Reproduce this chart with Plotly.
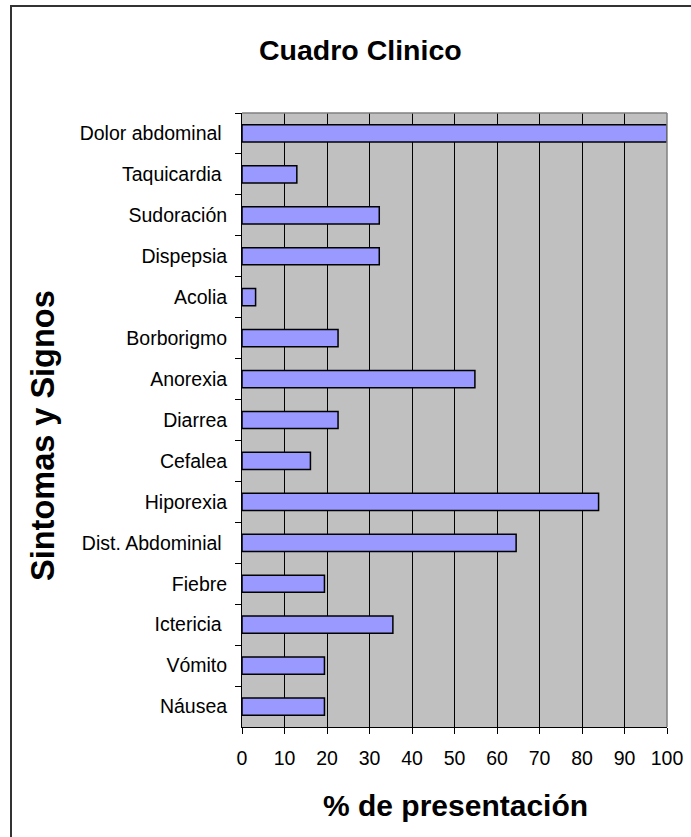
import plotly.graph_objects as go

# Symptom / sign categories, listed from top to bottom as displayed
sintomas = [
    "Dolor abdominal\u00a0",
    "Taquicardia\u00a0",
    "Sudoración",
    "Dispepsia",
    "Acolia",
    "Borborigmo",
    "Anorexia",
    "Diarrea",
    "Cefalea",
    "Hiporexia",
    "Dist. Abdominial\u00a0",
    "Fiebre",
    "Ictericia\u00a0",
    "Vómito",
    "Náusea",
]

# Percentage of presentation for each category
porcentaje = [100.0, 12.9, 32.3, 32.3, 3.2, 22.6, 54.8, 22.6, 16.1, 83.9,
              64.5, 19.4, 35.5, 19.4, 19.4]

x_ticks = [0, 10, 20, 30, 40, 50, 60, 70, 80, 90, 100]

FONT = "Liberation Sans, Arial, sans-serif"
W, H = 691, 837
ML, MR, MT, MB = 242, 24, 113, 110
PW, PH = W - ML - MR, H - MT - MB


def px_x(x):
    return (x - ML) / PW


def px_y(y):
    return (H - MB - y) / PH


fig = go.Figure(
    go.Bar(
        x=porcentaje,
        y=sintomas,
        orientation="h",
        marker=dict(color="#9999FF", line=dict(color="#000000", width=1.5)),
        hoverinfo="x+y",
    )
)

fig.update_layout(
    width=W,
    height=H,
    margin=dict(l=ML, r=MR, t=MT, b=MB, pad=0, autoexpand=False),
    paper_bgcolor="#FFFFFF",
    plot_bgcolor="#C0C0C0",
    bargap=0.58,
    showlegend=False,
    font=dict(family=FONT, color="#000000", size=19.5),
    xaxis=dict(
        range=[0, 100],
        tickvals=x_ticks,
        ticktext=[str(v) for v in x_ticks],
        showgrid=True,
        gridcolor="#000000",
        gridwidth=1,
        zeroline=False,
        showline=True,
        linecolor="#000000",
        linewidth=1,
        ticks="outside",
        ticklen=6,
        tickcolor="#000000",
        ticklabelstandoff=8,
        tickfont=dict(size=19.5),
        automargin=False,
        fixedrange=True,
    ),
    yaxis=dict(
        type="category",
        categoryorder="array",
        categoryarray=sintomas,
        autorange="reversed",
        showgrid=False,
        zeroline=False,
        showline=True,
        linecolor="#000000",
        linewidth=1,
        ticks="outside",
        tickson="boundaries",
        ticklen=6,
        tickcolor="#000000",
        ticklabelstandoff=10,
        tickfont=dict(size=19.5),
        automargin=False,
        fixedrange=True,
    ),
    shapes=[
        # grey frame on the top and right of the plotting area
        dict(type="line", xref="paper", yref="paper", x0=0, x1=1, y0=1, y1=1,
             line=dict(color="#808080", width=1.5), layer="above"),
        dict(type="line", xref="paper", yref="paper", x0=1, x1=1, y0=0, y1=1,
             line=dict(color="#808080", width=1.5), layer="above"),
        # outer chart border
        dict(type="rect", xref="paper", yref="paper",
             x0=px_x(11), x1=px_x(700), y0=px_y(845), y1=px_y(6),
             line=dict(color="#333333", width=2), fillcolor="rgba(0,0,0,0)",
             layer="below"),
    ],
    annotations=[
        dict(text="<b>Cuadro Clinico</b>", xref="paper", yref="paper",
             x=px_x(360), y=px_y(50), xanchor="center", yanchor="middle",
             showarrow=False, font=dict(size=28.5, family=FONT)),
        dict(text="<b>% de presentación</b>", xref="paper", yref="paper",
             x=px_x(455), y=px_y(805), xanchor="center", yanchor="middle",
             showarrow=False, font=dict(size=30, family=FONT)),
        dict(text="<b>Sintomas y Signos</b>", xref="paper", yref="paper",
             x=px_x(43), y=px_y(436), xanchor="center", yanchor="middle",
             textangle=-90, showarrow=False, font=dict(size=32.5, family=FONT)),
    ],
)

fig.write_html("out.html")
